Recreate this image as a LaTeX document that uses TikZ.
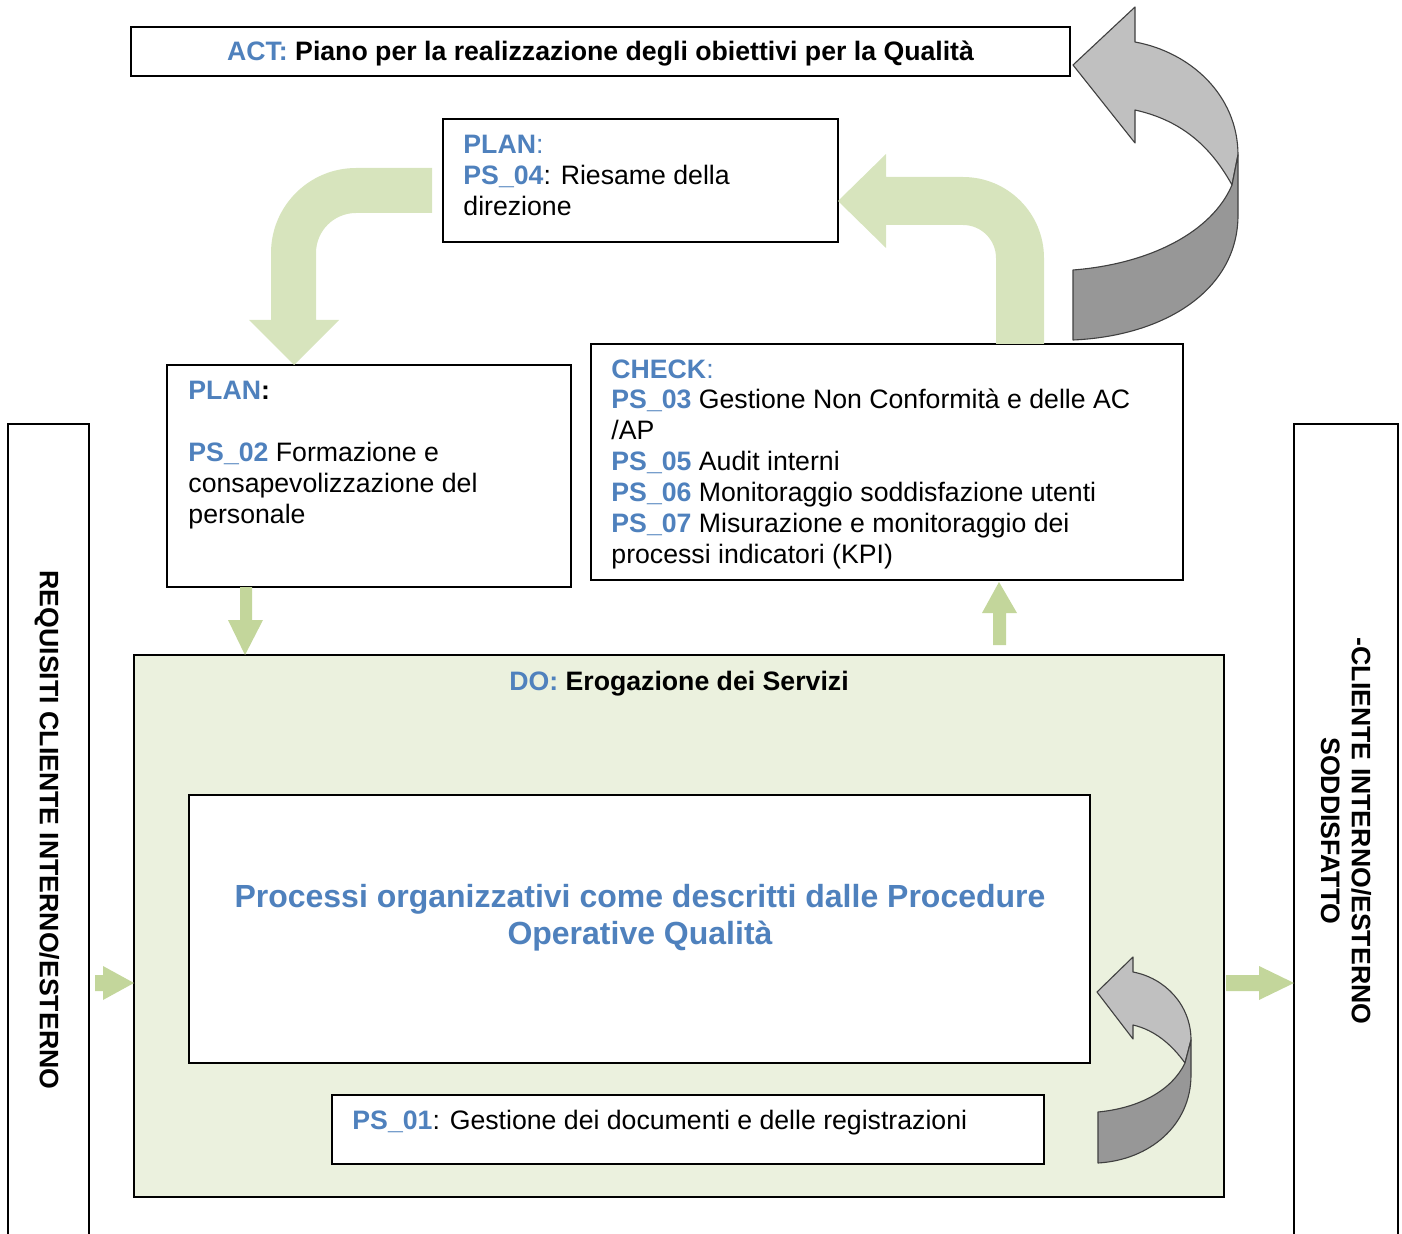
\documentclass[tikz,border=0pt]{standalone}
\usepackage{fontspec}
\setmainfont{Liberation Sans}
\usetikzlibrary{positioning}
\definecolor{psblue}{HTML}{4F81BD}
\definecolor{greenlight}{HTML}{D7E4BD}
\definecolor{greenmid}{HTML}{C3D69B}
\definecolor{dofill}{HTML}{EBF1DE}
\definecolor{graylight}{HTML}{C0C0C0}
\definecolor{graydark}{HTML}{979797}
\begin{document}
\begin{tikzpicture}[x=0.45pt,y=-0.45pt]
      \tikzstyle{box} = [rectangle, draw=black, line width=0.9pt, fill=white, inner sep=0pt]
      \tikzstyle{txt} = [inner sep=0pt, align=left, anchor=north west, font=\fontsize{12}{13.9}\selectfont]
      \tikzstyle{bold} = [inner sep=0pt, font=\bfseries\fontsize{12}{13.9}\selectfont]
      \tikzstyle{bigarrow} = [fill=greenlight]
      \tikzstyle{smallarrow} = [fill=greenmid]
      \tikzstyle{uturnlight} = [fill=graylight, draw=black!75, line width=0.5pt, line join=round]
      \tikzstyle{uturndark} = [fill=graydark, draw=black!75, line width=0.5pt, line join=round]

      \clip (0,0) rectangle (1402,1234);

      \node (req) [box, minimum width=81*0.45pt, minimum height=822*0.45pt] at (48.5,835) {};
      \node (sat) [box, minimum width=104*0.45pt, minimum height=822*0.45pt] at (1346,835) {};
      \node (reqtxt) [bold, rotate=-90] at (47,830) {REQUISITI CLIENTE INTERNO/ESTERNO};
      \node (sattxt) [bold, rotate=-90, align=center] at (1346,831) {-CLIENTE INTERNO/ESTERNO\\SODDISFATTO};

      \node (act) [box, minimum width=939*0.45pt, minimum height=49*0.45pt] at (600.5,51.5) {};
      \node (acttxt) [bold] at (600.5,54) {\textcolor{psblue}{ACT:} Piano per la realizzazione degli obiettivi per la Qualità};

      \node (plan1) [box, minimum width=395*0.45pt, minimum height=123*0.45pt] at (640.5,180.5) {};
      \node (plan1txt) [txt] at (463,135) {\textcolor{psblue}{\textbf{PLAN}:}\\\textcolor{psblue}{\textbf{PS\_04}}: Riesame della\\direzione};

      \node (plan2) [box, minimum width=404*0.45pt, minimum height=222*0.45pt] at (369,476) {};
      \node (plan2txt) [txt] at (188,381) {\textbf{\textcolor{psblue}{PLAN}:}\\[13.9pt]\textcolor{psblue}{\textbf{PS\_02}} Formazione e\\consapevolizzazione del\\personale};

      \node (check) [box, minimum width=592*0.45pt, minimum height=236*0.45pt] at (887,462) {};
      \node (checktxt) [txt] at (611,359) {\textcolor{psblue}{\textbf{CHECK}:}\\\textcolor{psblue}{\textbf{PS\_03}} Gestione Non Conformità e delle AC\\/AP\\\textcolor{psblue}{\textbf{PS\_05}} Audit interni\\\textcolor{psblue}{\textbf{PS\_06}} Monitoraggio soddisfazione utenti\\\textcolor{psblue}{\textbf{PS\_07}} Misurazione e monitoraggio dei\\processi indicatori (KPI)};

      \node (do) [box, fill=dofill, minimum width=1090*0.45pt, minimum height=542*0.45pt] at (679,926) {};
      \node (dotxt) [bold] at (679,684) {\textcolor{psblue}{DO:} Erogazione dei Servizi};

      \node (proc) [box, minimum width=901*0.45pt, minimum height=268*0.45pt] at (639.5,929) {};
      \node (proctxt) [inner sep=0pt, align=center, text=psblue, font=\bfseries\fontsize{14.4}{16.6}\selectfont] at (640,918) {Processi organizzativi come descritti dalle Procedure\\Operative Qualità};

      \node (ps01) [box, minimum width=712*0.45pt, minimum height=69*0.45pt] at (688,1129.5) {};
      \node (ps01txt) [txt] at (352,1110) {\textcolor{psblue}{\textbf{PS\_01}}: Gestione dei documenti e delle registrazioni};

      \fill [bigarrow] (432,168) -- (356,168) arc[start angle=270, end angle=180, radius=85]
            -- (271,320) -- (249,320) -- (294,365) -- (339,320) -- (316,320) -- (316,253)
            arc[start angle=180, end angle=270, radius=40] -- (432,213) -- cycle;
      \fill [bigarrow] (996,344) -- (996,258) arc[start angle=360, end angle=270, radius=33]
            -- (886,225) -- (886,248) -- (838,201) -- (886,154) -- (886,177) -- (963,177)
            arc[start angle=270, end angle=360, radius=81] -- (1044,344) -- cycle;

      \fill [smallarrow] (240,587) -- (240,620) -- (228,620) -- (245,655) -- (263,620) -- (252,620) -- (252,587) -- cycle;
      \fill [smallarrow] (993,645) -- (993,613) -- (982,613) -- (999,582) -- (1017,613) -- (1006,613) -- (1006,645) -- cycle;
      \fill [smallarrow] (95,975) -- (103,975) -- (103,966) -- (134,983) -- (103,1000) -- (103,991) -- (95,991) -- cycle;
      \fill [smallarrow] (1226,975) -- (1259,975) -- (1259,966) -- (1294,983) -- (1259,1000) -- (1259,991) -- (1226,991) -- cycle;

      \draw [uturnlight] (1073,65) -- (1135,7) -- (1135,42) .. controls (1190,52) and (1238,95) .. (1238,155)
            -- (1232,185) .. controls (1210,145) and (1180,120) .. (1135,110) -- (1135,143) -- cycle;
      \draw [uturndark] (1232,185) -- (1238,155) -- (1238,215) .. controls (1238,290) and (1165,336) .. (1073,340)
            -- (1073,270) .. controls (1150,264) and (1212,232) .. (1232,185) -- cycle;

      \draw [uturnlight] (1097,992) -- (1133,957) -- (1133,972) .. controls (1165,978) and (1191,1005) .. (1191,1040)
            -- (1185,1063) .. controls (1172,1045) and (1155,1030) .. (1133,1025) -- (1133,1039) -- cycle;
      \draw [uturndark] (1185,1063) -- (1191,1040) -- (1191,1075) .. controls (1191,1125) and (1150,1160) .. (1098,1163)
            -- (1098,1112) .. controls (1140,1108) and (1172,1090) .. (1185,1063) -- cycle;
    \end{tikzpicture}
\end{document}
